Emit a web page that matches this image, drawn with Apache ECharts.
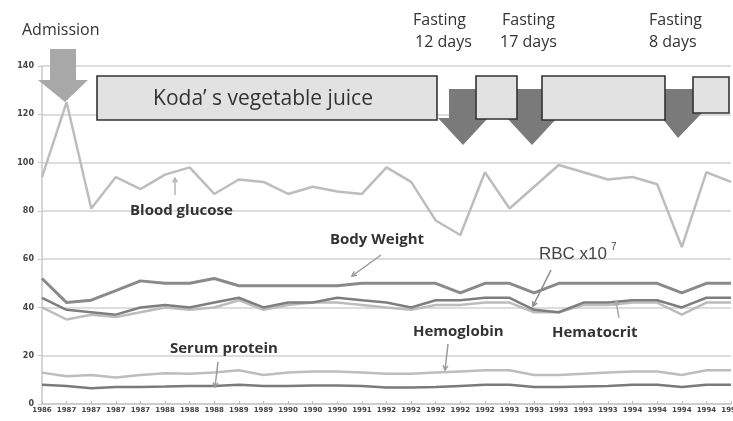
<!DOCTYPE html>
<html>
<head>
<meta charset="utf-8">
<script src="https://cdn.jsdelivr.net/npm/echarts@6/dist/echarts.min.js"></script>
<style>
  html, body { margin: 0; padding: 0; background: #fff; }
  #chart { width: 733px; height: 421px; }
</style>
</head>
<body>
<div id="chart"></div>
<script>
// x-axis labels (one per measurement)
const categories = ['1986', '1987', '1987', '1987', '1987', '1988', '1988', '1988', '1989', '1989',
  '1990', '1990', '1990', '1991', '1992', '1992', '1992', '1992', '1992', '1993',
  '1993', '1993', '1993', '1993', '1994', '1994', '1994', '1994', '1995']

const bloodGlucose = [94, 125, 81, 94, 89, 95, 98, 87, 93, 92, 87, 90, 88, 87, 98, 92, 76, 70, 96, 81,
  90, 99, 96, 93, 94, 91, 65, 96, 92]
const bodyWeight = [52, 42, 43, 47, 51, 50, 50, 52, 49, 49, 49, 49, 49, 50, 50, 50, 50, 46, 50, 50,
  46, 50, 50, 50, 50, 50, 46, 50, 50]
const rbc = [44, 39, 38, 37, 40, 41, 40, 42, 44, 40, 42, 42, 44, 43, 42, 40, 43, 43, 44, 44,
  39, 38, 42, 42, 43, 43, 40, 44, 44]
const hematocrit = [40, 35, 37, 36, 38, 40, 39, 40, 43, 39, 41, 42, 42, 41, 40, 39, 41, 41, 42, 42,
  38, 38, 41, 41, 42, 42, 37, 42, 42]
const hemoglobin = [13, 11.5, 12, 11, 12, 12.7, 12.5, 13, 14, 12, 13, 13.5, 13.5, 13, 12.5, 12.5, 13, 13.5, 14, 14,
  12, 12, 12.5, 13, 13.5, 13.5, 12, 14, 14]
const serumProtein = [8, 7.5, 6.5, 7, 7, 7.2, 7.5, 7.5, 8, 7.5, 7.5, 7.7, 7.7, 7.5, 6.8, 6.8, 7, 7.5, 8, 8,
  7, 7, 7.3, 7.5, 8, 8, 7, 8, 8]

const yMax = 140
const yStep = 20

const chart = echarts.init(document.getElementById('chart'))

const lineSeries = (name, data, color, width) => ({
  name,
  type: 'line',
  data,
  symbol: 'none',
  lineStyle: { color, width },
  z: 3,
})

// small callout arrow: line from (x1,y1) to tip (x2,y2)
const callout = (x1, y1, x2, y2, color) => {
  const a = Math.atan2(y2 - y1, x2 - x1)
  const h = 5
  const p1 = [x2 - h * Math.cos(a - 0.5), y2 - h * Math.sin(a - 0.5)]
  const p2 = [x2 - h * Math.cos(a + 0.5), y2 - h * Math.sin(a + 0.5)]
  return [
    { type: 'line', shape: { x1, y1, x2, y2 }, style: { stroke: color, lineWidth: 1.5 }, z: 20 },
    { type: 'polyline', shape: { points: [p1, [x2, y2], p2] }, style: { stroke: color, lineWidth: 1.5, fill: null }, z: 20 },
  ]
}

const txt = (text, x, y, size, opts = {}) => ({
  type: 'text',
  x, y,
  z: 20,
  style: {
    text,
    font: `${opts.bold ? 'bold ' : ''}${size}px ${opts.family || '"Open Sans", sans-serif'}`,
    fill: opts.color || '#333',
    align: opts.align || 'left',
    verticalAlign: 'middle',
  },
})

// down arrow polygon: shaft [sx1,sx2] from top to headY, head [hx1,hx2], tip (tx,ty)
const downArrow = (sx1, sx2, top, headY, hx1, hx2, tx, ty, fill) => ({
  type: 'polygon',
  z: 10,
  shape: { points: [[sx1, top], [sx2, top], [sx2, headY], [hx2, headY], [tx, ty], [hx1, headY], [sx1, headY]] },
  style: { fill },
})

const box = (x, y, w, h) => ({
  type: 'rect',
  z: 12,
  shape: { x, y, width: w, height: h },
  style: { fill: '#e2e2e2', stroke: '#333', lineWidth: 1.6 },
})

const option = {
  backgroundColor: '#fff',
  animation: false,
  grid: { left: 42, right: 2, top: 66, bottom: 17, outerBoundsMode: 'none' },
  xAxis: {
    type: 'category',
    data: categories,
    boundaryGap: false,
    axisLine: { lineStyle: { color: '#c8c8c8', width: 1.5 } },
    axisTick: { show: true, inside: true, length: 3, interval: 0, lineStyle: { color: '#bbb' } },
    axisLabel: {
      interval: 0,
      margin: 3,
      fontSize: 7,
      fontWeight: 'bold',
      fontFamily: 'DejaVu Sans',
      color: '#444',
      hideOverlap: false,
      alignMinLabel: 'center',
      alignMaxLabel: 'center',
    },
  },
  yAxis: {
    type: 'value',
    min: 0,
    max: yMax,
    interval: yStep,
    axisLine: { show: true, lineStyle: { color: '#c8c8c8', width: 1.5 } },
    axisTick: { show: true, length: 4, lineStyle: { color: '#c8c8c8' } },
    axisLabel: { fontSize: 8, fontWeight: 'bold', fontFamily: 'DejaVu Sans', color: '#444', margin: 8 },
    splitLine: { lineStyle: { color: '#d2d2d2', width: 1.5 } },
  },
  series: [
    lineSeries('Blood glucose', bloodGlucose, '#bdbdbd', 2.5),
    lineSeries('Hematocrit', hematocrit, '#bcbcbc', 2.5),
    lineSeries('Hemoglobin', hemoglobin, '#bdbdbd', 2.5),
    lineSeries('Body Weight', bodyWeight, '#8a8a8a', 3),
    lineSeries('RBC x10^7', rbc, '#7e7e7e', 2.5),
    lineSeries('Serum protein', serumProtein, '#7a7a7a', 2.5),
  ],
  graphic: [
    // admission arrow
    txt('Admission', 22, 30, 16),
    downArrow(50, 76, 49, 80, 38, 88, 65, 102, '#a8a8a8'),
    // fasting arrows (behind the boxes)
    downArrow(449, 478, 89, 118, 438, 488, 463, 145, '#7a7a7a'),
    downArrow(516, 543, 89, 118, 507, 557, 532, 145, '#7a7a7a'),
    downArrow(664, 694, 89, 113, 658, 702, 678, 138, '#7a7a7a'),
    // vegetable juice boxes
    box(97, 76, 340, 44),
    box(476, 76, 41, 43),
    box(542, 76, 123, 44),
    box(693, 77, 36, 36),
    txt('Koda’ s vegetable juice', 263, 99, 21, { align: 'center', color: '#333' }),
    // fasting labels
    txt('Fasting', 413, 20, 16),
    txt('12 days', 415, 42, 16),
    txt('Fasting', 502, 20, 16),
    txt('17 days', 500, 42, 16),
    txt('Fasting', 649, 20, 16),
    txt('8 days', 649, 42, 16),
    // series callouts
    txt('Blood glucose', 130, 211, 15, { bold: true }),
    ...callout(175, 195, 175, 178, '#b5b5b5'),
    txt('Body Weight', 330, 240, 15, { bold: true }),
    ...callout(381, 255, 352, 276, '#9a9a9a'),
    txt('RBC x10', 539, 254, 17, { family: '"Liberation Sans", sans-serif', color: '#444' }),
    txt('7', 611, 247, 10, { family: '"Liberation Sans", sans-serif', color: '#444' }),
    ...callout(551, 270, 533, 306, '#8a8a8a'),
    txt('Hematocrit', 552, 333, 15, { bold: true }),
    ...callout(619, 318, 616, 301, '#aaaaaa'),
    txt('Hemoglobin', 413, 332, 15, { bold: true }),
    ...callout(448, 344, 445, 370, '#9a9a9a'),
    txt('Serum protein', 170, 349, 15, { bold: true }),
    ...callout(218, 362, 215, 387, '#9a9a9a'),
  ],
}

chart.setOption(option)
</script>
</body>
</html>
